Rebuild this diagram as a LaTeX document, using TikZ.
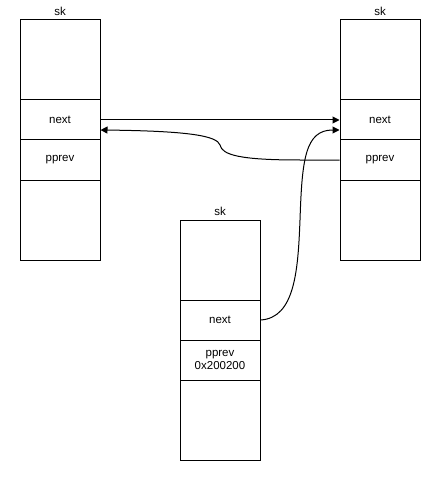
\documentclass[tikz,border=0pt]{standalone}
\usepackage{fontspec}
\setmainfont{Liberation Sans}
\usetikzlibrary{arrows.meta}
\begin{document}
\begin{tikzpicture}[x=1pt,y=-1pt,
  cell/.style={draw,line width=1pt,minimum width=80pt,minimum height=40pt,inner sep=0pt,
    font=\fontsize{11.5}{13.5}\selectfont,align=center},
  tall/.style={cell,minimum height=80pt},
  lbl/.style={font=\fontsize{11.5}{13.5}\selectfont,inner sep=0pt},
  link/.style={line width=1pt,-{Triangle[length=7pt,width=7pt]}}]
\useasboundingbox (0,0) rectangle (441,481);
% left structure
\node[tall] (Ltop) at (60,60) {};
\node[cell] (Lnext) at (60,120) {next};
\node[cell] (Lpprev) at (60,160) {pprev};
\node[tall] (Lbot) at (60,220) {};
\node[lbl] (Lsk) at (60,11) {sk};
% right structure
\node[tall] (Rtop) at (380,60) {};
\node[cell] (Rnext) at (380,120) {next};
\node[cell] (Rpprev) at (380,160) {pprev};
\node[tall] (Rbot) at (380,220) {};
\node[lbl] (Rsk) at (380,11) {sk};
% bottom structure
\node[tall] (Btop) at (220,260) {};
\node[cell] (Bnext) at (220,320) {next};
\node[cell] (Bpprev) at (220,360) {pprev\\0x200200};
\node[tall] (Bbot) at (220,420) {};
\node[lbl] (Bsk) at (220,211) {sk};
% connectors
\coordinate (Lin) at ([yshift=-10pt]Lnext.east);
\coordinate (Rin) at ([yshift=-10pt]Rnext.west);
\draw[link] (Lnext.east) -- (Rnext.west);
\draw[link] (Rpprev.west) -- (300,160) .. controls (240,160) and (222,155) .. (220,145)
  .. controls (217,136) and (190,131) .. (Lin);
\draw[link] (Bnext.east) .. controls (295,318) and (298,270) .. (300,220)
  .. controls (302,160) and (305,130) .. (Rin);
\end{tikzpicture}
\end{document}
